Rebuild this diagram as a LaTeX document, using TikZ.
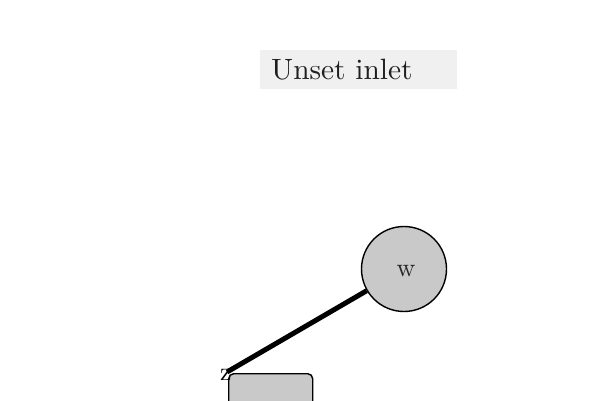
\documentclass[tikz,border=0pt]{standalone}
\usepackage{fontspec}
\begin{document}
\begin{tikzpicture}[x=1pt,y=-1pt,
  titlebox/.style={fill=black!6,draw=none,inner sep=0pt,minimum width=197pt,minimum height=39pt,anchor=north west},
  circnode/.style={circle,draw=black,line width=1.4pt,fill=black!21,minimum size=85pt,inner sep=0pt},
  recnode/.style={draw=black,line width=1.4pt,fill=black!21,rounded corners=5pt,minimum width=84pt,minimum height=70pt,anchor=north west,inner sep=0pt},
  link/.style={line width=5pt,draw=black}]
\useasboundingbox (0,0) rectangle (600,400);
\node[titlebox] (title) at (260,50) {};
\node[anchor=base west,inner sep=0pt,font=\fontsize{10}{12}\selectfont,text=black!88] (tt) at (271,79) {\scalebox{2.94}{Unset inlet}};
\node[circnode] (w) at (404,269) {};
\node[font=\fontsize{10}{12}\selectfont,text=black!85,inner sep=0pt] (wl) at (406,271) {\scalebox{2.6}{w}};
\node[recnode] (z) at (228,373) {};
\coordinate (zc) at (227,372);
\draw[link] (w) -- (zc);
\node[font=\fontsize{10}{12}\selectfont,inner sep=0pt] (zl) at (226,375) {\scalebox{2.6}{z}};
\end{tikzpicture}
\end{document}
